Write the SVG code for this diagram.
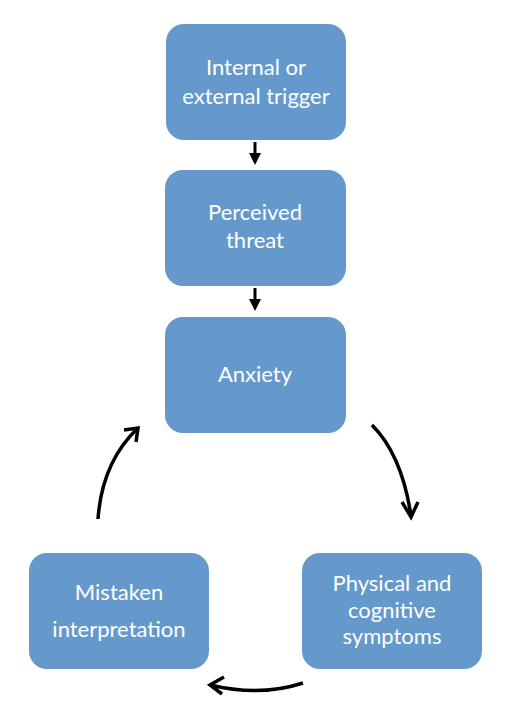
<svg xmlns="http://www.w3.org/2000/svg" width="507" height="705" viewBox="0 0 507 705">
<style>
.box{fill:#6599CB;}
.t{font-family:Lato,"Liberation Sans",Arial,sans-serif;font-size:22px;fill:#ffffff;text-anchor:middle;}
.c{fill:none;stroke:#000;stroke-width:3.5;stroke-linecap:butt;}
.s{fill:none;stroke:#000;stroke-width:3;}
</style>
<defs>
<marker id="tri" markerWidth="4" markerHeight="4" refX="2" refY="2" orient="auto" markerUnits="strokeWidth">
<path d="M0,0 L4,2 L0,4 Z" fill="#000"/>
</marker>
</defs>
<rect width="507" height="705" fill="#fff"/>
<g id="n1"><rect class="box" x="166" y="24" width="180" height="116" rx="18"/><text class="t" x="256" y="75">Internal or</text><text class="t" x="256" y="104">external trigger</text></g>
<g id="n2"><rect class="box" x="165" y="170" width="181" height="116" rx="18"/><text class="t" x="255" y="220">Perceived</text><text class="t" x="255" y="248">threat</text></g>
<g id="n3"><rect class="box" x="165" y="317" width="181" height="116" rx="18"/><text class="t" x="255" y="382">Anxiety</text></g>
<g id="n4"><rect class="box" x="29" y="553" width="180" height="116" rx="18"/><text class="t" x="119" y="600">Mistaken</text><text class="t" x="119" y="637">interpretation</text></g>
<g id="n5"><rect class="box" x="302" y="553" width="180" height="116" rx="18"/><text class="t" x="392" y="591">Physical and</text><text class="t" x="392" y="618">cognitive</text><text class="t" x="392" y="644">symptoms</text></g>
<g id="connectors">
<line class="s" x1="255" y1="142" x2="255" y2="159" marker-end="url(#tri)"/>
<line class="s" x1="255" y1="288" x2="255" y2="305" marker-end="url(#tri)"/>
<path class="c" d="M372,425 Q402,455 411,516"/>
<path class="c" d="M402,502 L411,517 L418,502"/>
<path class="c" d="M303,683 Q260,697 210,685"/>
<path class="c" d="M224,677 L210,685 L222,694"/>
<path class="c" d="M98,519 Q102,462 138,428"/>
<path class="c" d="M124,430 L138,428 L136,442"/>
</g>
</svg>
